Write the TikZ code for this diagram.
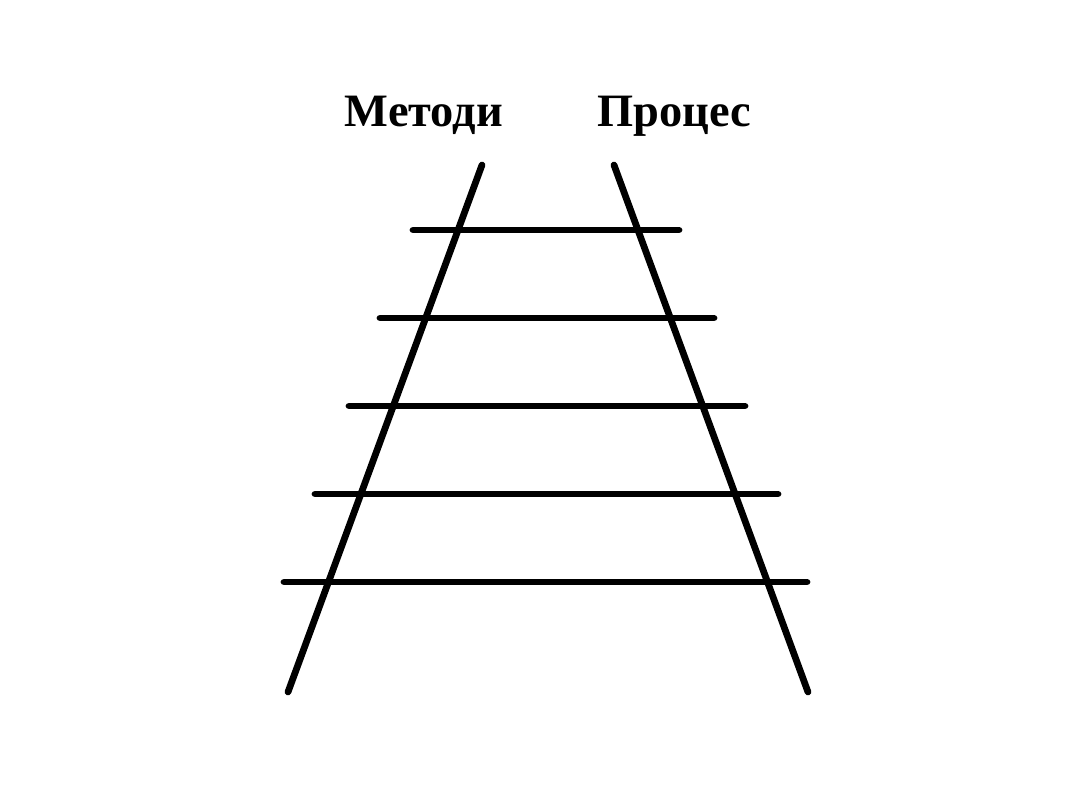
\documentclass[tikz,border=0pt]{standalone}
\usepackage{fontspec}
\setmainfont{Liberation Serif}

\begin{document}
\begin{tikzpicture}[x=0.025cm, y=-0.025cm, rail/.style={line width=4.8pt, line cap=round}, label/.style={anchor=base, inner sep=0pt, font=\fontsize{33}{40}\selectfont\bfseries}]
    \useasboundingbox (0, 0) rectangle (1080, 810);
    \node[label] (methods) at (424, 126) {Методи};
    \node[label] (process) at (674, 126) {Процес};
    \draw[rail] (482, 165) -- (288, 692);
    \draw[rail] (614, 165) -- (808, 692);
    \draw[rail] (413, 230) -- (679, 230);
    \draw[rail] (380, 318) -- (714, 318);
    \draw[rail] (349, 406) -- (745, 406);
    \draw[rail] (315, 494) -- (778, 494);
    \draw[rail] (284, 582) -- (807, 582);
  \end{tikzpicture}
\end{document}
